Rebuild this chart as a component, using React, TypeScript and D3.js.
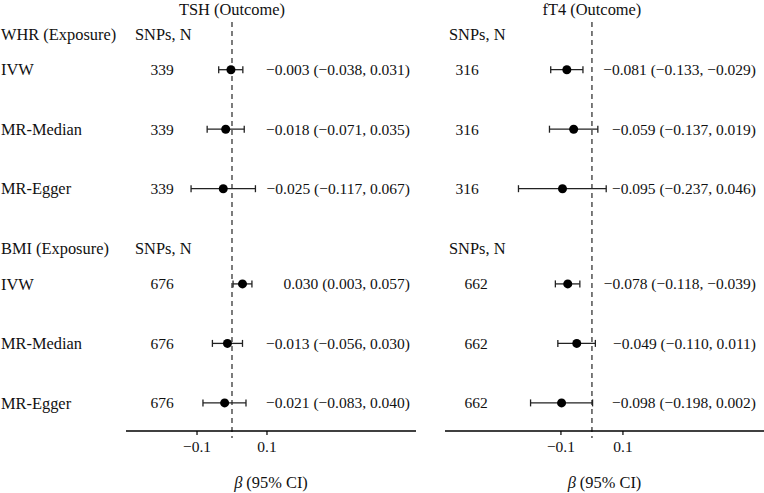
import React from "react";
import * as d3 from "d3";

// ---------- data ----------
const outcomes = ["TSH (Outcome)", "fT4 (Outcome)"];
const exposures = ["WHR (Exposure)", "BMI (Exposure)"];
const methods = ["IVW", "MR-Median", "MR-Egger"];

// TSH outcome
const tshWhrBeta = [-0.003, -0.018, -0.025];
const tshWhrLo = [-0.038, -0.071, -0.117];
const tshWhrHi = [0.031, 0.035, 0.067];
const tshBmiBeta = [0.03, -0.013, -0.021];
const tshBmiLo = [0.003, -0.056, -0.083];
const tshBmiHi = [0.057, 0.03, 0.04];

// fT4 outcome
const ft4WhrBeta = [-0.081, -0.059, -0.095];
const ft4WhrLo = [-0.133, -0.137, -0.237];
const ft4WhrHi = [-0.029, 0.019, 0.046];
const ft4BmiBeta = [-0.078, -0.049, -0.098];
const ft4BmiLo = [-0.118, -0.11, -0.198];
const ft4BmiHi = [-0.039, 0.011, 0.002];

const snpsTsh = [339, 676];
const snpsFt4 = [316, 662];
const tickValues = [-0.1, 0.1];
const axisTitle = "(95% CI)";

// ---------- layout ----------
const W = 764;
const H = 493;
const FONT = "'Liberation Serif', 'Times New Roman', serif";
const FS = 16.4;
const FS_NUM = 15.5;

const panels = [
  {
    title: outcomes[0],
    domain: [-0.303, 0.526],
    range: [126, 416],
    snps: snpsTsh,
    groups: [
      { beta: tshWhrBeta, lo: tshWhrLo, hi: tshWhrHi },
      { beta: tshBmiBeta, lo: tshBmiLo, hi: tshBmiHi },
    ],
    snpHeaderX: 135,
    nX: [162, 162],
    valueX: 410,
    showLabels: true,
  },
  {
    title: outcomes[1],
    domain: [-0.474, 0.555],
    range: [445, 764],
    snps: snpsFt4,
    groups: [
      { beta: ft4WhrBeta, lo: ft4WhrLo, hi: ft4WhrHi },
      { beta: ft4BmiBeta, lo: ft4BmiLo, hi: ft4BmiHi },
    ],
    snpHeaderX: 449,
    nX: [467, 476],
    valueX: 756,
    showLabels: false,
  },
];

// vertical slots: header, then rows
const yScale = d3.scaleLinear().domain([0, 1]).range([34, 34 + 59.5]);
const groupStart = [0, 3.6];
const headerToRow = 0.6;

const fmt3 = d3.format(".3f");
const fmt1 = d3.format(".1f");

function Panel({ p }: { p: (typeof panels)[number] }) {
  const x = d3.scaleLinear().domain(p.domain).range(p.range);
  const axisY = 431;
  const x0 = x(0);
  return (
    <g>
      <text x={x0} y={9.5} dy="0.35em" textAnchor="middle" fontSize={FS}>
        {p.title}
      </text>
      <line x1={x0} x2={x0} y1={22} y2={438} stroke="#444" strokeWidth={1.4} strokeDasharray="5,4" />
      {p.groups.map((g, gi) => {
        const hy = yScale(groupStart[gi]);
        return (
          <g key={gi}>
            {p.showLabels && (
              <text x={1} y={hy} dy="0.35em" fontSize={FS}>
                {exposures[gi]}
              </text>
            )}
            <text x={p.snpHeaderX} y={hy} dy="0.35em" fontSize={FS}>
              SNPs, N
            </text>
            {methods.map((m, mi) => {
              const y = yScale(groupStart[gi] + headerToRow + mi);
              return (
                <g key={m}>
                  {p.showLabels && (
                    <text x={1} y={y} dy="0.35em" fontSize={FS}>
                      {m}
                    </text>
                  )}
                  <text x={p.nX[gi]} y={y} dy="0.35em" fontSize={FS_NUM} textAnchor="middle">
                    {p.snps[gi]}
                  </text>
                  <line x1={x(g.lo[mi])} x2={x(g.hi[mi])} y1={y} y2={y} stroke="#222" strokeWidth={1.3} />
                  <line x1={x(g.lo[mi])} x2={x(g.lo[mi])} y1={y - 3.5} y2={y + 3.5} stroke="#222" strokeWidth={1.3} />
                  <line x1={x(g.hi[mi])} x2={x(g.hi[mi])} y1={y - 3.5} y2={y + 3.5} stroke="#222" strokeWidth={1.3} />
                  <circle cx={x(g.beta[mi])} cy={y} r={4.5} fill="#000" />
                  <text x={p.valueX} y={y} dy="0.35em" fontSize={FS_NUM} textAnchor="end">
                    {`${fmt3(g.beta[mi])} (${fmt3(g.lo[mi])}, ${fmt3(g.hi[mi])})`}
                  </text>
                </g>
              );
            })}
          </g>
        );
      })}
      <line x1={p.range[0]} x2={p.range[1]} y1={axisY} y2={axisY} stroke="#000" strokeWidth={1.4} />
      {tickValues.map((t) => (
        <g key={t}>
          <line x1={x(t)} x2={x(t)} y1={axisY} y2={axisY + 4} stroke="#000" strokeWidth={1.2} />
          <text x={x(t)} y={447} dy="0.35em" textAnchor="middle" fontSize={FS_NUM}>
            {fmt1(t)}
          </text>
        </g>
      ))}
      <text x={(p.range[0] + p.range[1]) / 2} y={482} dy="0.35em" textAnchor="middle" fontSize={FS}>
        <tspan fontStyle="italic">β</tspan>
        <tspan dx={4}>{axisTitle}</tspan>
      </text>
    </g>
  );
}

export default function App() {
  return (
    <svg
      width={W}
      height={H}
      viewBox={`0 0 ${W} ${H}`}
      style={{ position: "absolute", left: 0, top: 0, display: "block", background: "#fff" }}
      fontFamily={FONT}
      fill="#111"
    >
      <rect width={W} height={H} fill="#fff" />
      {panels.map((p, i) => (
        <Panel key={i} p={p} />
      ))}
    </svg>
  );
}
